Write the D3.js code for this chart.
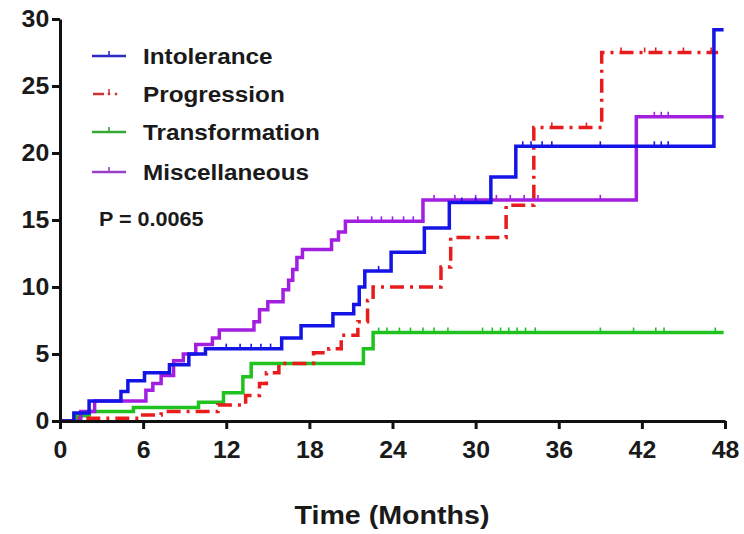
<!DOCTYPE html>
<html>
<head>
<meta charset="utf-8">
<script src="https://cdn.jsdelivr.net/npm/d3@7"></script>
<style>
  html, body { margin: 0; padding: 0; background: #fff; }
  svg { display: block; font-family: "Liberation Sans", Arial, sans-serif; }
</style>
</head>
<body>
<svg id="chart" width="744" height="534"></svg>
<script>
// step curves: time (months) and cumulative value
const seriesNames = ['Intolerance', 'Progression', 'Transformation', 'Miscellaneous'];

const intolTimes  = [0, 1.0, 2.1, 4.4, 4.9, 6.1, 7.9, 9.3, 10.5, 16.0, 17.4, 19.7, 21.2, 21.6, 22.0, 23.9, 26.3, 28.1, 31.1, 32.9, 47.2, 47.9];
const intolValues = [0, 0.6, 1.5, 2.2, 3.0, 3.6, 4.2, 5.0, 5.4, 6.2, 7.1, 8.0, 8.7, 10.0, 11.2, 12.6, 14.4, 16.3, 18.2, 20.5, 29.2, 29.2];
const intolCensor = [12.0, 13.0, 13.8, 14.5, 15.2, 23.0, 29.0, 30.0, 33.4, 34.0, 34.8, 35.5, 39.0, 42.9, 43.4, 43.9];

const progTimes  = [0, 1.4, 5.8, 7.3, 11.4, 13.4, 14.4, 14.9, 15.8, 18.3, 19.4, 20.3, 21.5, 22.2, 22.6, 27.5, 28.2, 32.2, 34.2, 39.1, 47.5];
const progValues = [0, 0.2, 0.45, 0.7, 1.2, 1.9, 2.8, 3.6, 4.3, 5.1, 5.4, 6.4, 7.4, 9.0, 10.0, 11.5, 13.7, 16.1, 21.9, 27.5, 27.5];
const progCensor = [35.5, 38.0, 40.5, 42.2, 43.0, 45.0, 47.0];

const transTimes  = [0, 1.2, 2.1, 5.3, 10.0, 11.8, 13.2, 13.8, 21.9, 22.6, 47.9];
const transValues = [0, 0.4, 0.7, 1.0, 1.4, 2.1, 3.3, 4.3, 5.4, 6.6, 6.6];
const transCensor = [23.0, 23.6, 24.5, 25.3, 26.2, 27.0, 28.0, 30.5, 31.2, 31.8, 32.4, 33.0, 33.6, 34.3, 39.0, 41.4, 43.0, 43.6, 47.3];

const miscTimes  = [0, 1.5, 2.5, 6.2, 6.7, 7.3, 8.2, 8.9, 9.8, 11.0, 11.5, 14.0, 14.4, 15.0, 16.1, 16.5, 16.8, 17.1, 17.5, 19.6, 20.1, 20.6, 26.2, 41.6, 47.9];
const miscValues = [0, 0.7, 1.5, 2.3, 2.8, 3.4, 4.5, 5.0, 5.7, 6.2, 6.8, 7.4, 8.3, 8.9, 9.8, 10.5, 11.3, 12.2, 12.8, 13.5, 14.1, 14.9, 16.5, 22.7, 22.7];
const miscCensor = [21.5, 22.5, 23.2, 24.0, 24.8, 25.5, 27.0, 28.5, 30.0, 31.5, 32.5, 33.5, 34.5, 39.0, 42.9, 43.4, 43.9];

const xTicks = [0, 6, 12, 18, 24, 30, 36, 42, 48];
const yTicks = [0, 5, 10, 15, 20, 25, 30];
const pValueLabel = 'P = 0.0065';
const xTitle = 'Time (Months)';

const series = [
  { name: 'Transformation', times: transTimes, values: transValues, censor: transCensor, color: '#1fc21f', legendColor: '#33a833', dash: null },
  { name: 'Progression', times: progTimes, values: progValues, censor: progCensor, color: '#e81c1c', legendColor: '#cc3333', dash: '14,6,3,6' },
  { name: 'Miscellaneous', times: miscTimes, values: miscValues, censor: miscCensor, color: '#a21fe0', legendColor: '#9a40c8', dash: null },
  { name: 'Intolerance', times: intolTimes, values: intolValues, censor: intolCensor, color: '#1414e6', legendColor: '#2a2ac4', dash: null }
];

const sx = 1.08; // glyphs in the picture are a touch wide
const svg = d3.select('#chart');

const x = d3.scaleLinear().domain([0, 48]).range([60, 725]);
const y = d3.scaleLinear().domain([0, 30]).range([421, 19]);

const line = d3.line()
  .x((d) => x(d.t))
  .y((d) => y(d.v))
  .curve(d3.curveStepAfter);

function valueAt(s, t) {
  let v = 0;
  s.times.forEach((tt, i) => { if (tt <= t) v = s.values[i]; });
  return v;
}

// curves
series.forEach((s) => {
  const pts = s.times.map((t, i) => ({ t, v: s.values[i] }));
  svg.append('path')
    .datum(pts)
    .attr('fill', 'none')
    .attr('stroke', s.color)
    .attr('stroke-width', 3.5)
    .attr('stroke-dasharray', s.dash)
    .attr('d', line);

  svg.append('g')
    .selectAll('line')
    .data(s.censor)
    .join('line')
    .attr('x1', (t) => x(t))
    .attr('x2', (t) => x(t))
    .attr('y1', (t) => y(valueAt(s, t)))
    .attr('y2', (t) => y(valueAt(s, t)) - 5)
    .attr('stroke', s.color)
    .attr('stroke-width', 1.6);
});

// axes
const xAxis = svg.append('g')
  .attr('transform', `translate(0,${y(0)})`)
  .call(d3.axisBottom(x).tickValues(xTicks).tickSize(8).tickSizeOuter(0).tickPadding(13));

const yAxis = svg.append('g')
  .attr('transform', `translate(${x(0)},0)`)
  .call(d3.axisLeft(y).tickValues(yTicks).tickSize(8).tickSizeOuter(0).tickPadding(2));

[xAxis, yAxis].forEach((ax) => {
  ax.select('.domain').attr('stroke', '#111').attr('stroke-width', 3);
  ax.selectAll('.tick line').attr('stroke', '#111').attr('stroke-width', 3);
  ax.selectAll('.tick text')
    .attr('fill', '#1a1a1a')
    .attr('font-size', 23)
    .attr('font-weight', 'bold')
    .attr('font-family', '"Liberation Sans", Arial, sans-serif')
    .attr('transform', `scale(${sx},1)`);
});

// legend
const legendRows = [
  { name: 'Intolerance', cy: 56 },
  { name: 'Progression', cy: 94 },
  { name: 'Transformation', cy: 132 },
  { name: 'Miscellaneous', cy: 172 }
];

legendRows.forEach((row) => {
  const s = series.find((d) => d.name === row.name);
  const lg = svg.append('g').attr('transform', `translate(0,${row.cy})`);
  if (s.dash) {
    lg.append('line').attr('x1', 93).attr('x2', 104).attr('y1', 0).attr('y2', 0)
      .attr('stroke', s.legendColor).attr('stroke-width', 2.5);
    [109, 116].forEach((px) => {
      lg.append('line').attr('x1', px - 1.2).attr('x2', px + 1.2).attr('y1', 0).attr('y2', 0)
        .attr('stroke', s.legendColor).attr('stroke-width', 2.5);
    });
    lg.append('line').attr('x1', 109).attr('x2', 109).attr('y1', 0).attr('y2', -5)
      .attr('stroke', s.legendColor).attr('stroke-width', 1.5);
  } else {
    lg.append('line').attr('x1', 92).attr('x2', 126).attr('y1', 0).attr('y2', 0)
      .attr('stroke', s.legendColor).attr('stroke-width', 2.5);
    lg.append('line').attr('x1', 109).attr('x2', 109).attr('y1', 0).attr('y2', -5)
      .attr('stroke', s.legendColor).attr('stroke-width', 1.6);
  }
  lg.append('text')
    .attr('transform', `translate(143,8) scale(${sx},1)`)
    .attr('font-size', 22.5)
    .attr('font-weight', 'bold')
    .attr('fill', '#1a1a1a')
    .text(row.name);
});

svg.append('text')
  .attr('transform', `translate(99,226) scale(${sx},1)`)
  .attr('font-size', 20)
  .attr('font-weight', 'bold')
  .attr('fill', '#1a1a1a')
  .text(pValueLabel);

svg.append('text')
  .attr('transform', `translate(392,524) scale(${sx},1)`)
  .attr('text-anchor', 'middle')
  .attr('font-size', 26.5)
  .attr('font-weight', 'bold')
  .attr('fill', '#1a1a1a')
  .text(xTitle);
</script>
</body>
</html>
